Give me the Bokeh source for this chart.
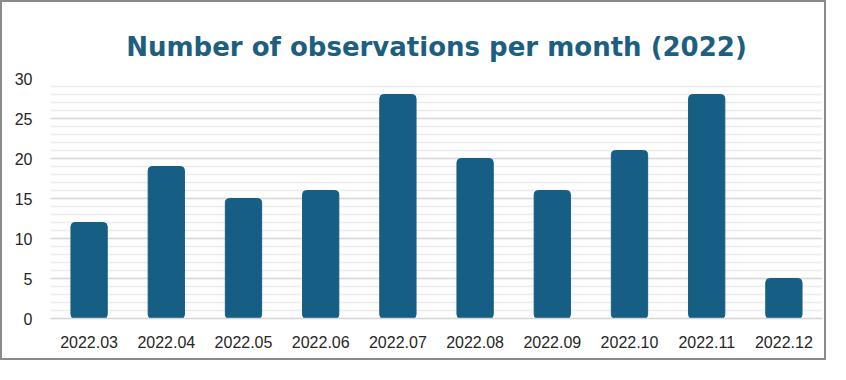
from bokeh.plotting import figure
from bokeh.models import ColumnDataSource, SingleIntervalTicker, Range1d
from bokeh.embed import file_html
from bokeh.resources import INLINE

months = ["2022.03", "2022.04", "2022.05", "2022.06", "2022.07",
          "2022.08", "2022.09", "2022.10", "2022.11", "2022.12"]
counts = [12, 19, 15, 16, 28, 20, 16, 21, 28, 5]
title_text = "Number of observations per month (2022)"

src = ColumnDataSource(dict(month=months, count=counts))

p = figure(x_range=months, y_range=Range1d(0, 30), width=826, height=360,
           output_backend="svg", toolbar_location=None,
           min_border_left=48, min_border_right=6, min_border_top=76, min_border_bottom=44)
p.styles = {"border": "2px solid #8a8a8a"}

p.title.text = title_text
p.title.align = "center"
p.title.text_font = "DejaVu Sans"
p.title.text_font_style = "bold"
p.title.text_font_size = "26px"
p.title.text_color = "#1d5f80"
p.title.standoff = 34

p.vbar(x="month", top="count", width=0.47, source=src, color="#175e84",
       border_radius=4)

p.outline_line_color = None
p.background_fill_color = "white"
p.border_fill_color = "white"

p.yaxis.ticker = SingleIntervalTicker(interval=5, num_minor_ticks=5)
p.yaxis.axis_line_color = None
p.yaxis.major_tick_line_color = None
p.yaxis.minor_tick_line_color = None
p.yaxis.major_label_text_font = "Liberation Sans"
p.yaxis.major_label_text_font_size = "16px"
p.yaxis.major_label_text_color = "#262626"
p.yaxis.major_label_standoff = 12

p.xaxis.axis_line_color = "#d4d4d4"
p.xaxis.axis_line_width = 1.5
p.xaxis.major_tick_line_color = None
p.xaxis.minor_tick_line_color = None
p.xaxis.major_label_text_font = "Liberation Sans"
p.xaxis.major_label_text_font_size = "16px"
p.xaxis.major_label_text_color = "#262626"
p.xaxis.major_label_standoff = 11

p.xgrid.grid_line_color = None
p.ygrid.grid_line_color = "#d9d9d9"
p.ygrid.grid_line_width = 1.5
p.ygrid.minor_grid_line_color = "#ececec"
p.ygrid.minor_grid_line_width = 1.5

open("out.html", "w").write(file_html(p, INLINE))
